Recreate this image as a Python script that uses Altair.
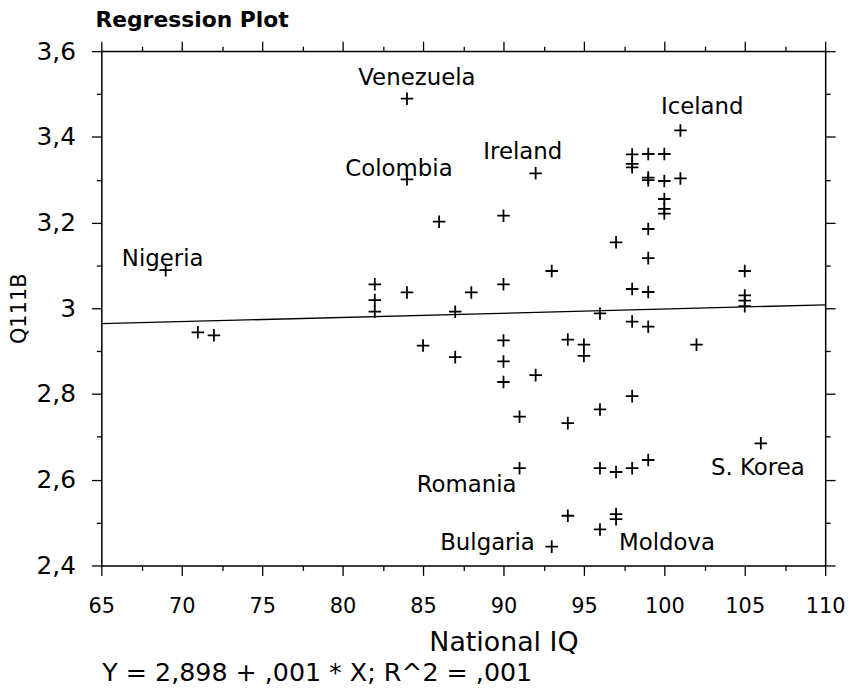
import altair as alt
import pandas as pd

# ---------------- data ----------------
national_iq = [69, 71, 72, 82, 82, 82, 84, 84, 84, 85, 86, 87, 87, 88,
               90, 90, 90, 90, 90, 91, 91, 92, 92, 93, 93, 94, 94, 94,
               95, 95, 96, 96, 96, 96, 97, 97, 97, 97,
               98, 98, 98, 98, 98, 98, 98,
               99, 99, 99, 99, 99, 99, 99, 99,
               100, 100, 100, 100, 100, 101, 101, 102,
               105, 105, 105, 105, 106]
q111b = [3.089, 2.944, 2.937, 3.056, 3.019, 2.992, 3.489, 3.301, 3.037, 2.913, 3.202, 2.992, 2.886, 3.037,
         3.216, 3.056, 2.925, 2.876, 2.828, 2.747, 2.627, 3.315, 2.844, 3.087, 2.444, 2.927, 2.732, 2.516,
         2.915, 2.889, 2.988, 2.764, 2.627, 2.484, 3.154, 2.618, 2.520, 2.508,
         3.359, 3.337, 3.329, 3.045, 2.969, 2.795, 2.627,
         3.360, 3.305, 3.299, 3.185, 3.117, 3.038, 2.957, 2.646,
         3.360, 3.297, 3.255, 3.232, 3.221, 3.415, 3.303, 2.915,
         3.087, 3.030, 3.018, 3.005, 2.685]

label_country = ["Nigeria", "Venezuela", "Colombia", "Ireland", "Iceland",
                 "Romania", "Bulgaria", "Moldova", "S. Korea"]
label_iq = [69, 84, 84, 92, 101, 91, 93, 97, 106]
label_q = [3.089, 3.489, 3.301, 3.315, 3.415, 2.627, 2.444, 2.508, 2.685]

fit_iq = [65, 110]
fit_q = [2.964, 3.008]

x_ticks = [65, 67.5, 70, 72.5, 75, 77.5, 80, 82.5, 85, 87.5, 90, 92.5,
           95, 97.5, 100, 102.5, 105, 107.5, 110]
y_ticks = [2.4, 2.5, 2.6, 2.7, 2.8, 2.9, 3.0, 3.1, 3.2, 3.3, 3.4, 3.5, 3.6]

title_text = "Regression Plot"
x_title = "National IQ"
y_title = "Q111B"
footer_text = "Y = 2,898 + ,001 * X; R^2 = ,001"

# ---------------- styling ----------------
FONT = "DejaVu Sans"
INK = "#000000"
W, H = 729, 518

# label placement (alignment, dx, dy) per country
label_style = {
    "Nigeria": ("center", -3, -4),
    "Venezuela": ("center", 10, -14),
    "Colombia": ("center", -8, -3),
    "Ireland": ("center", -13, -14),
    "Iceland": ("center", 22, -17),
    "Romania": ("right", -3, 24),
    "Bulgaria": ("right", -17, 3),
    "Moldova": ("left", 3, 31),
    "S. Korea": ("center", -3, 32),
}

xscale = alt.Scale(domain=[65, 110], nice=False, zero=False)
yscale = alt.Scale(domain=[2.4, 3.6], nice=False, zero=False)

major_x = "datum.value % 5 === 0"
major_y = "round(datum.value * 10) % 2 === 0"


def tick_size(test):
    return {"condition": {"test": test, "value": 10}, "value": 5}


common = dict(domainColor=INK, domainWidth=1.5, tickColor=INK, tickWidth=1.3,
              grid=False, labelColor=INK, titleColor=INK)

x_bottom = alt.Axis(orient="bottom", values=x_ticks, tickSize=tick_size(major_x),
                    labelExpr=f"{major_x} ? format(datum.value, '.0f') : ''",
                    labelFont=FONT, labelFontSize=21, labelPadding=20,
                    labelOverlap=False, labelFlush=False, labelBound=False,
                    title=x_title, titleFont=FONT, titleFontSize=27, titleFontWeight="normal",
                    titleX=405, titleAlign="center", titlePadding=14, **common)
y_left = alt.Axis(orient="left", values=y_ticks, tickSize=tick_size(major_y),
                  labelExpr=f"{major_y} ? replace(format(datum.value, '~g'), '.', ',') : ''",
                  labelFont=FONT, labelFontSize=25, labelPadding=16,
                  labelOverlap=False, labelFlush=False, labelBound=False,
                  title=y_title, titleFont=FONT, titleFontSize=21, titleFontWeight="normal",
                  titlePadding=7, **common)
x_top = alt.Axis(orient="top", values=x_ticks, tickSize=tick_size(major_x),
                 labels=False, title=None, **common)
y_right = alt.Axis(orient="right", values=y_ticks, tickSize=tick_size(major_y),
                   labels=False, title=None, **common)

points_df = pd.DataFrame({"iq": national_iq, "q": q111b})
fit_df = pd.DataFrame({"iq": fit_iq, "q": fit_q})

cross = "M-1,0L1,0M0,-1L0,1"

points = alt.Chart(points_df).mark_point(
    shape=cross, filled=False, stroke=INK, strokeWidth=1.8, size=160, opacity=1
).encode(
    x=alt.X("iq:Q", scale=xscale, axis=x_bottom),
    y=alt.Y("q:Q", scale=yscale, axis=y_left),
)

fit = alt.Chart(fit_df).mark_line(color=INK, strokeWidth=1.3).encode(
    x=alt.X("iq:Q", scale=xscale, axis=x_top),
    y=alt.Y("q:Q", scale=yscale, axis=y_right),
)

layers = [fit, points]
for name, lx, ly in zip(label_country, label_iq, label_q):
    align, dx, dy = label_style[name]
    df = pd.DataFrame({"iq": [lx], "q": [ly], "country": [name]})
    layers.append(
        alt.Chart(df).mark_text(
            align=align, baseline="alphabetic", dx=dx, dy=dy,
            font=FONT, fontSize=23, color=INK
        ).encode(
            x=alt.X("iq:Q", scale=xscale, axis=None),
            y=alt.Y("q:Q", scale=yscale, axis=None),
            text="country:N",
        )
    )

# chart title and regression equation, placed in pixels relative to the plot area
title_mark = alt.Chart(pd.DataFrame({"t": [title_text]})).mark_text(
    align="left", baseline="alphabetic", font=FONT, fontSize=22, fontWeight="bold", color=INK
).encode(x=alt.value(-6), y=alt.value(-24), text="t:N")
layers.append(title_mark)

footer = alt.Chart(pd.DataFrame({"t": [footer_text]})).mark_text(
    align="left", baseline="alphabetic", font=FONT, fontSize=25.5, color=INK
).encode(x=alt.value(1), y=alt.value(634), text="t:N")
layers.append(footer)

chart = alt.layer(*layers).resolve_axis(
    x="independent", y="independent"
).properties(
    width=W, height=H,
    autosize=alt.AutoSizeParams(type="none"),
    padding={"left": 94, "top": 41, "right": 25, "bottom": 122},
).configure_view(stroke=None).configure(background="white")

chart.save("out.html", embed_options={"renderer": "svg", "actions": False})
